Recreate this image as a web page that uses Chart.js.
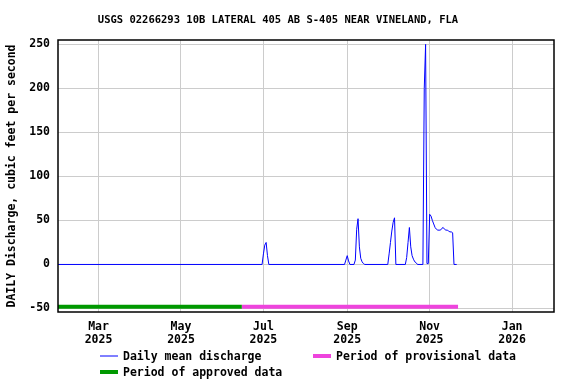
<!DOCTYPE html>
<html>
<head>
<meta charset="utf-8">
<script src="https://cdn.jsdelivr.net/npm/chart.js@4"></script>
<style>
  body { margin: 0; background: #fff; }
  #wrap { width: 576px; height: 384px; position: relative; }
</style>
</head>
<body>
<div id="wrap"><canvas id="flowChart"></canvas></div>
<script>
// daily mean discharge, only the days where the trace changes (flat zero stretches between)
const flowDates = [
  "2025-01-30", "2025-06-30", "2025-07-01", "2025-07-02", "2025-07-03", "2025-07-04", "2025-07-05",
  "2025-08-30", "2025-08-31", "2025-09-01", "2025-09-02", "2025-09-03",
  "2025-09-06", "2025-09-07", "2025-09-08", "2025-09-09", "2025-09-10", "2025-09-11", "2025-09-12", "2025-09-13", "2025-09-14",
  "2025-10-01", "2025-10-02", "2025-10-03", "2025-10-04", "2025-10-05", "2025-10-06", "2025-10-07",
  "2025-10-14", "2025-10-15", "2025-10-16", "2025-10-17", "2025-10-18", "2025-10-19", "2025-10-20", "2025-10-21", "2025-10-22", "2025-10-23",
  "2025-10-27", "2025-10-28", "2025-10-29", "2025-10-30", "2025-10-31",
  "2025-11-01", "2025-11-02", "2025-11-03", "2025-11-04", "2025-11-05", "2025-11-06", "2025-11-07", "2025-11-08", "2025-11-09",
  "2025-11-10", "2025-11-11", "2025-11-12", "2025-11-13", "2025-11-14", "2025-11-15", "2025-11-16", "2025-11-17", "2025-11-18",
  "2025-11-19", "2025-11-21"
];
const flowValues = [
  0, 0, 12, 22, 25, 10, 0,
  0, 5, 10, 4, 0,
  0, 5, 40, 52, 20, 7, 3, 1, 0,
  0, 12, 25, 38, 48, 53, 0,
  0, 8, 25, 42, 20, 10, 6, 3, 2, 0,
  0, 200, 250, 1, 1,
  57, 55, 50, 46, 42, 40, 39, 39, 39,
  41, 42, 40, 39, 39, 38, 37, 37, 36,
  0, 0
];

const approvedPeriod = ["2025-01-30", "2025-06-15"];
const provisionalPeriod = ["2025-06-15", "2025-11-22"];
const periodLevel = -48;

const xTickDates = ["2025-03-01", "2025-05-01", "2025-07-01", "2025-09-01", "2025-11-01", "2026-01-01"];
const xTickLabels = [["Mar", "2025"], ["May", "2025"], ["Jul", "2025"], ["Sep", "2025"], ["Nov", "2025"], ["Jan", "2026"]];
const yTicks = [-50, 0, 50, 100, 150, 200, 250];

const chartTitle = "USGS 02266293 10B LATERAL 405 AB S-405 NEAR VINELAND, FLA";
const yTitle = "DAILY Discharge, cubic feet per second";

const MONO = "'DejaVu Sans Mono', monospace";
const BLUE = "#0000ff", GREEN = "#009900", PINK = "#ee44dd";

function toDay(s) {
  return Date.UTC(+s.slice(0, 4), +s.slice(5, 7) - 1, +s.slice(8, 10)) / 86400000;
}

const flowPoints = flowDates.map((d, i) => ({x: toDay(d), y: flowValues[i]}));
const approvedPoints = approvedPeriod.map(d => ({x: toDay(d), y: periodLevel}));
const provisionalPoints = provisionalPeriod.map(d => ({x: toDay(d), y: periodLevel}));

// title, frame and legend
const decorations = {
  id: "decorations",
  afterDraw(chart) {
    const ctx = chart.ctx;
    const a = chart.chartArea;
    ctx.save();
    ctx.strokeStyle = "#000";
    ctx.lineWidth = 1.5;
    ctx.strokeRect(a.left, a.top, a.right - a.left, a.bottom - a.top);

    ctx.fillStyle = "#000";
    ctx.font = "bold 10.5px " + MONO;
    ctx.textAlign = "center";
    ctx.textBaseline = "middle";
    ctx.fillText(chartTitle, 278, 20);

    const items = [
      {label: "Daily mean discharge", color: BLUE, width: 1, x: 100, y: 356},
      {label: "Period of provisional data", color: PINK, width: 4, x: 313, y: 356},
      {label: "Period of approved data", color: GREEN, width: 4, x: 100, y: 372}
    ];
    ctx.font = "bold 11.5px " + MONO;
    ctx.textAlign = "left";
    items.forEach(it => {
      ctx.strokeStyle = it.color;
      ctx.lineWidth = it.width;
      ctx.beginPath();
      ctx.moveTo(it.x, it.y);
      ctx.lineTo(it.x + 18, it.y);
      ctx.stroke();
      ctx.fillStyle = "#000";
      ctx.fillText(it.label, it.x + 23, it.y + 1);
    });
    ctx.restore();
  }
};

new Chart(document.getElementById("flowChart"), {
  type: "line",
  data: {
    datasets: [
      {label: "Daily mean discharge", data: flowPoints, borderColor: BLUE, borderWidth: 1, pointRadius: 0, tension: 0},
      {label: "Period of approved data", data: approvedPoints, borderColor: GREEN, borderWidth: 4, pointRadius: 0, borderCapStyle: "butt"},
      {label: "Period of provisional data", data: provisionalPoints, borderColor: PINK, borderWidth: 4, pointRadius: 0, borderCapStyle: "butt"}
    ]
  },
  options: {
    responsive: true,
    maintainAspectRatio: false,
    animation: false,
    layout: {padding: {top: 40, right: 22, left: 0, bottom: 0}},
    plugins: {legend: {display: false}, tooltip: {enabled: false}},
    scales: {
      x: {
        type: "linear",
        min: toDay("2025-01-30"),
        max: toDay("2026-02-01"),
        afterBuildTicks: s => { s.ticks = xTickDates.map(d => ({value: toDay(d)})); },
        afterFit: s => { s.height = 72; },
        ticks: {
          autoSkip: false,
          maxRotation: 0,
          padding: 8,
          color: "#000",
          font: {family: MONO, size: 11.5, weight: "bold", lineHeight: 1.15},
          callback: (v, i) => xTickLabels[i]
        },
        grid: {color: "#cccccc", drawTicks: false},
        border: {display: false}
      },
      y: {
        min: -54,
        max: 255,
        afterBuildTicks: s => { s.ticks = yTicks.map(v => ({value: v})); },
        afterFit: s => { s.width = 58; },
        ticks: {
          padding: 8,
          color: "#000",
          font: {family: MONO, size: 11.5, weight: "bold"}
        },
        grid: {color: "#cccccc", drawTicks: false},
        border: {display: false},
        title: {
          display: true,
          text: yTitle,
          color: "#000",
          padding: {top: 5, bottom: 0},
          font: {family: MONO, size: 11.5, weight: "bold"}
        }
      }
    }
  },
  plugins: [decorations]
});
</script>
</body>
</html>
